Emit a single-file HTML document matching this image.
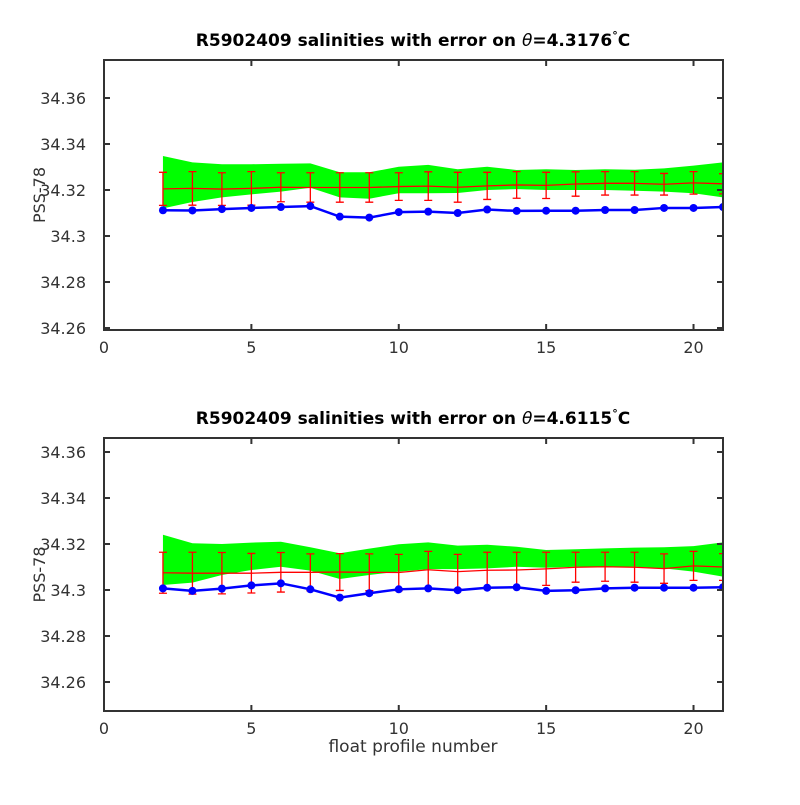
<!DOCTYPE html>
<html><head><meta charset="utf-8"><style>
body{margin:0;background:#fff;}
svg text{font-family:"DejaVu Sans","Liberation Sans",sans-serif;}
</style></head><body>
<svg id="chart" width="800" height="800" xmlns="http://www.w3.org/2000/svg"></svg>
<script>
const profiles=[2,3,4,5,6,7,8,9,10,11,12,13,14,15,16,17,18,19,20,21];
const xTicks=[0,5,10,15,20];
const yTickLabels=["34.26","34.28","34.3","34.32","34.34","34.36"];
const yTicks=[34.26,34.28,34.30,34.32,34.34,34.36];
const titles=["4.3176","4.6115"];
// panel 1
const blue1=[34.3112,34.3111,34.3117,34.3122,34.3126,34.3130,34.3084,34.3080,34.3104,34.3106,34.3100,34.3115,34.3109,34.3110,34.3110,34.3113,34.3113,34.3122,34.3122,34.3126];
const mean1=[34.3205,34.3207,34.3204,34.3207,34.3212,34.3211,34.3211,34.3211,34.3215,34.3217,34.3212,34.3218,34.3222,34.3220,34.3226,34.3229,34.3229,34.3225,34.3231,34.3227];
const err1=[0.0072,0.0073,0.0071,0.0073,0.0063,0.0064,0.0064,0.0064,0.0060,0.0062,0.0065,0.0059,0.0058,0.0057,0.0053,0.0051,0.0051,0.0047,0.0049,0.0044];
const bandTop1=[34.3348,34.3320,34.3312,34.3312,34.3314,34.3316,34.3277,34.3277,34.3301,34.3309,34.3290,34.3301,34.3287,34.3290,34.3287,34.3290,34.3288,34.3294,34.3306,34.3320];
const bandBot1=[34.3120,34.3148,34.3168,34.3181,34.3193,34.3210,34.3168,34.3162,34.3186,34.3186,34.3187,34.3200,34.3204,34.3200,34.3200,34.3200,34.3197,34.3193,34.3186,34.3168];
// panel 2
const blue2=[34.3007,34.2996,34.3006,34.3020,34.3029,34.3003,34.2967,34.2986,34.3003,34.3007,34.2999,34.3010,34.3012,34.2996,34.2999,34.3007,34.3010,34.3010,34.3010,34.3012];
const mean2=[34.3075,34.3073,34.3073,34.3073,34.3077,34.3077,34.3078,34.3077,34.3076,34.3088,34.3080,34.3086,34.3087,34.3092,34.3099,34.3101,34.3099,34.3093,34.3105,34.3100];
const err2=[0.0089,0.0091,0.0090,0.0086,0.0086,0.0080,0.0080,0.0080,0.0079,0.0080,0.0075,0.0078,0.0077,0.0072,0.0065,0.0063,0.0065,0.0064,0.0063,0.0058];
const bandTop2=[34.3240,34.3203,34.3200,34.3206,34.3210,34.3186,34.3160,34.3180,34.3199,34.3207,34.3193,34.3197,34.3188,34.3174,34.3177,34.3181,34.3184,34.3186,34.3191,34.3207];
const bandBot2=[34.3022,34.3032,34.3065,34.3087,34.3101,34.3084,34.3048,34.3065,34.3080,34.3091,34.3091,34.3094,34.3101,34.3097,34.3101,34.3101,34.3101,34.3094,34.3080,34.3058];

const NS="http://www.w3.org/2000/svg";
const svg=document.getElementById('chart');
function mk(tag,attrs,parent){const e=document.createElementNS(NS,tag);for(const k in attrs)e.setAttribute(k,attrs[k]);(parent||svg).appendChild(e);return e;}
const L=104,R=723;
const xs=v=>L+v*(R-L)/21;
const panels=[
 {top:60,bot:330,y0:236,blue:blue1,mean:mean1,err:err1,bt:bandTop1,bb:bandBot1},
 {top:438,bot:711,y0:590,blue:blue2,mean:mean2,err:err2,bt:bandTop2,bb:bandBot2}];
panels.forEach((p,pi)=>{
  const ys=v=>p.y0-(v-34.30)*2300;
  const g=mk('g',{});
  
  
  const clipId='clip'+pi;
  const cp=mk('clipPath',{id:clipId},g);mk('rect',{x:L,y:p.top,width:R-L,height:p.bot-p.top},cp);
  const pg=mk('g',{'clip-path':'url(#'+clipId+')'},g);
  let pts=profiles.map((x,i)=>xs(x)+','+ys(p.bt[i]));
  pts=pts.concat(profiles.map((x,i)=>xs(x)+','+ys(p.bb[i])).reverse());
  const band=mk('polygon',{points:pts.join(' '),fill:'#00ff00',stroke:'none'},pg);
  
  
  const ml=mk('polyline',{points:profiles.map((x,i)=>xs(x)+','+ys(p.mean[i])).join(' '),fill:'none',stroke:'#ff0000','stroke-width':1.3},pg);
  
  
  profiles.forEach((x,i)=>{
    const cx=xs(x),t=ys(p.mean[i]+p.err[i]),b=ys(p.mean[i]-p.err[i]);
    const eb=mk('path',{d:`M${cx},${t}V${b}M${cx-4},${t}H${cx+4}M${cx-4},${b}H${cx+4}`,stroke:'#ff0000','stroke-width':1.3,fill:'none'},pg);
    
    
  });
  const bl=mk('polyline',{points:profiles.map((x,i)=>xs(x)+','+ys(p.blue[i])).join(' '),fill:'none',stroke:'#0000ff','stroke-width':2.5},pg);
  
  
  profiles.forEach((x,i)=>{
    const c=mk('circle',{cx:xs(x),cy:ys(p.blue[i]),r:4,fill:'#0000ff'},pg);
    
    
  });
  const box=mk('rect',{x:L,y:p.top,width:R-L,height:p.bot-p.top,fill:'none',stroke:'#333','stroke-width':2},g);
  
  
  xTicks.forEach(t=>{
    const x=xs(t);
    mk('path',{d:`M${x},${p.bot}v-6M${x},${p.top}v6`,stroke:'#333','stroke-width':2},g);
    const tl=mk('text',{x:x,y:p.bot+23,'text-anchor':'middle','font-size':16,fill:'#333'},g);
    tl.textContent=t;
    
    
  });
  yTicks.forEach((t,i)=>{
    const y=ys(t);
    mk('path',{d:`M${L},${y}h6M${R},${y}h-6`,stroke:'#333','stroke-width':2},g);
    const tl=mk('text',{x:L-18,y:y+6,'text-anchor':'end','font-size':16,fill:'#333'},g);
    tl.textContent=yTickLabels[i];
    
    
  });
  const yl=mk('text',{x:0,y:0,transform:`translate(45,${(p.top+p.bot)/2}) rotate(-90)`,'text-anchor':'middle','font-size':16,fill:'#333'},g);
  yl.textContent='PSS-78';
  
  
  const tt=mk('text',{x:413,y:p.top-14,'text-anchor':'middle','font-size':17,'font-weight':'bold',fill:'#000'},g);
  tt.innerHTML='R5902409 salinities with error on <tspan font-style="italic" font-weight="normal">θ</tspan>='+titles[pi]+'<tspan dy="-7" font-size="11">°</tspan><tspan dy="7">C</tspan>';
  
  
});
const xl=mk('text',{x:413,y:752,'text-anchor':'middle','font-size':17,fill:'#333'});
xl.textContent='float profile number';


</script>
</body></html>
